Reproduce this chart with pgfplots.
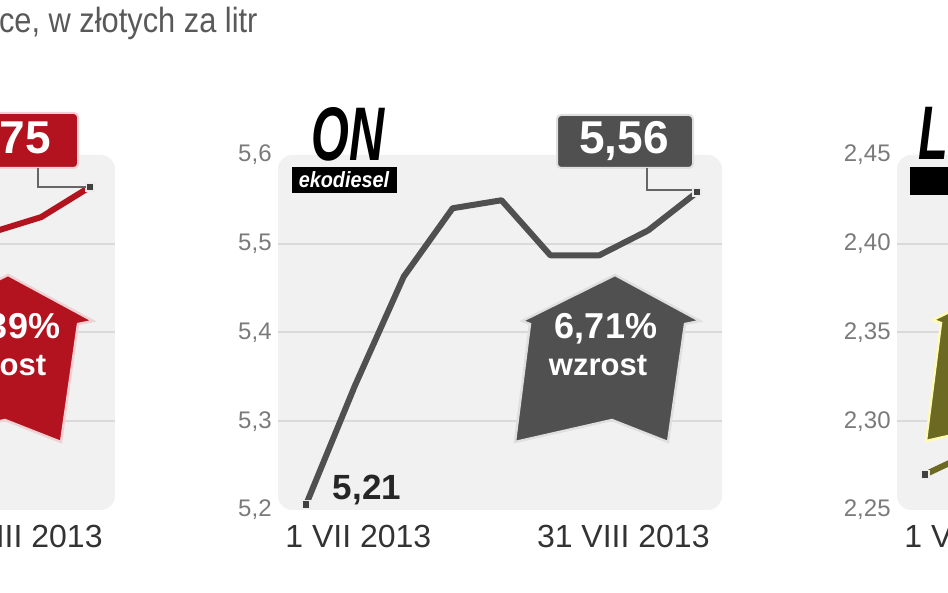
\documentclass[border=0pt]{standalone}
\usepackage{pgfplots}
\pgfplotsset{compat=1.18}
\usepackage{fontspec}
\setmainfont{Liberation Sans}
\newfontfamily\titlefont[FakeStretch=0.88]{Liberation Sans}
\newfontfamily\headfont[FakeStretch=0.64]{Liberation Sans}
\newfontfamily\subfont[FakeStretch=0.9]{Liberation Sans}
\definecolor{ongray}{HTML}{505050}
\definecolor{pbred}{HTML}{B2131F}
\definecolor{lpgolive}{HTML}{6C6A22}
\definecolor{panelbg}{HTML}{F1F1F1}
\definecolor{gridc}{HTML}{DADADA}
\definecolor{ticklab}{HTML}{7A7A7A}
\definecolor{datelab}{HTML}{333333}
\pgfplotsset{panel/.style={
  scale only axis, width=222pt, height=177.5pt, anchor=south west,
  axis line style={draw=none}, tick style={draw=none},
  xtick=\empty, xmin=-0.573, xmax=8.511, clip=false,
  axis background/.style={fill=panelbg, rounded corners=7pt},
  extra y tick labels={}, extra y tick style={grid=major},
  major grid style={gridc, line width=1pt},
  yticklabel style={font=\fontsize{12}{12}\selectfont, text=ticklab, inner sep=0pt, anchor=east, xshift=-3pt},
  /pgf/number format/assume math mode=true,
  /pgf/number format/use comma,
}}
\begin{document}
\begin{tikzpicture}
\useasboundingbox (0pt,0pt) rectangle (474pt,296.5pt);
\clip (0pt,0pt) rectangle (474pt,296.5pt);

% ---- left panel (Pb95, mostly cut off; its tick labels lie outside the picture) ----
\begin{axis}[panel, at={(-164.5pt,41.5pt)}, ymin=5.4, ymax=5.8,
  ytick={5.4,5.5,5.6,5.7,5.8}, yticklabels={}, extra y ticks={5.5,5.6,5.7}]
\addplot[pbred, line width=3pt, line join=round] coordinates {(6,5.713) (7,5.730) (8,5.764)};
\addplot[only marks, mark=square*, mark size=2pt, mark options={fill=black!75, draw=gray!15, line width=0.8pt}] coordinates {(8,5.764)};
\end{axis}

% ---- middle panel (ON) ----
\begin{axis}[panel, at={(139pt,41.5pt)}, ymin=5.2, ymax=5.6,
  ytick={5.2,5.3,5.4,5.5,5.6}, extra y ticks={5.3,5.4,5.5},
  yticklabel style={/pgf/number format/.cd, fixed, fixed zerofill, precision=1}]
\addplot[ongray, line width=3pt, line join=round] coordinates {(0,5.206) (1,5.34) (2,5.463) (3,5.540) (4,5.549) (5,5.487) (6,5.487) (7,5.515) (8,5.558)};
\addplot[only marks, mark=square*, mark size=2pt, mark options={fill=black!75, draw=gray!15, line width=0.8pt}] coordinates {(0,5.206) (8,5.558)};
\end{axis}

% ---- right panel (LPG, mostly cut off) ----
\begin{axis}[panel, at={(448.5pt,41.5pt)}, ymin=2.25, ymax=2.45,
  ytick={2.25,2.30,2.35,2.40,2.45}, extra y ticks={2.30,2.35,2.40},
  yticklabel style={/pgf/number format/.cd, fixed, fixed zerofill, precision=2}]
\addplot[lpgolive, line width=3pt, line join=round] coordinates {(0,2.270) (1,2.283)};
\addplot[only marks, mark=square*, mark size=2pt, mark options={fill=black!75, draw=gray!15, line width=0.8pt}] coordinates {(0,2.270)};
\end{axis}

\begin{scope}[x=0.5pt, y=-0.5pt, yshift=296.5pt]
% title
\node[anchor=base east, inner sep=0pt, text=black!65] at (258,33)
  {\titlefont\fontsize{17.5}{17.5}\selectfont Średnie ceny paliw w Polsce, w złotych za litr};

% arrows
\begin{scope}[shift={(-607,0)}]
\filldraw[fill=pbred, draw=pbred!20, line width=1.2pt] (615,275) -- (700,321) -- (685,324) -- (668,442) -- (612,420) -- (515,442) -- (530,324) -- (522,321) -- cycle;
\node[text=white, inner sep=0pt, font=\bfseries\fontsize{18}{18}\selectfont] at (616,329) {5,39\%};
\node[text=white, inner sep=0pt, font=\bfseries\fontsize{15.5}{15.5}\selectfont] at (604,366) {wzrost};
\end{scope}
\filldraw[fill=ongray, draw=gray!25, line width=1.2pt] (615,275) -- (700,321) -- (685,324) -- (668,442) -- (612,420) -- (515,442) -- (530,324) -- (522,321) -- cycle;
\node[text=white, inner sep=0pt, font=\bfseries\fontsize{18}{18}\selectfont] at (606,329) {6,71\%};
\node[text=white, inner sep=0pt, font=\bfseries\fontsize{15.5}{15.5}\selectfont] at (598,366) {wzrost};
\begin{scope}[shift={(411,-1)}]
\filldraw[fill=lpgolive, draw=yellow!30!white, line width=1.2pt] (615,275) -- (700,321) -- (685,324) -- (668,442) -- (612,420) -- (515,442) -- (530,324) -- (522,321) -- cycle;
\end{scope}

% value boxes
\filldraw[fill=pbred, draw=pbred!20, line width=1pt, rounded corners=2pt] (-58,113) rectangle (78,168);
\node[text=white, inner sep=0pt, font=\bfseries\fontsize{23}{23}\selectfont] at (6,141) {5,75};
\draw[black!60, line width=0.7pt] (38,168) -- (38,187) -- (86,187);
\filldraw[fill=ongray, draw=gray!25, line width=1pt, rounded corners=2pt] (557,115) rectangle (693,168);
\node[text=white, inner sep=0pt, font=\bfseries\fontsize{23}{23}\selectfont] at (624,141) {5,56};
\draw[black!60, line width=0.7pt] (647,168) -- (647,190) -- (692,190);
\node[text=black!85, inner sep=0pt, font=\bfseries\fontsize{17.5}{17.5}\selectfont] at (367,490) {5,21};

% headings
\node[anchor=base west, inner sep=0pt, text depth=0pt] at (311,161) {\headfont\bfseries\itshape\fontsize{38}{38}\selectfont ON};
\fill[black] (292,167) rectangle (397,193);
\node[text=white, inner sep=0pt] at (344,180) {\subfont\bfseries\itshape\fontsize{11}{11}\selectfont ekodiesel};
\node[anchor=base west, inner sep=0pt, text depth=0pt] at (918,160) {\headfont\bfseries\itshape\fontsize{38}{38}\selectfont LPG};
\fill[black] (910,167) rectangle (1040,195);

% dates
\node[anchor=base east, inner sep=0pt, text=datelab, font=\fontsize{16}{16}\selectfont] at (103,548) {31 VIII 2013};
\node[anchor=base west, inner sep=0pt, text=datelab, font=\fontsize{16}{16}\selectfont] at (285,548) {1 VII 2013};
\node[anchor=base east, inner sep=0pt, text=datelab, font=\fontsize{16}{16}\selectfont] at (710,548) {31 VIII 2013};
\node[anchor=base west, inner sep=0pt, text=datelab, font=\fontsize{16}{16}\selectfont] at (904,548) {1 VII 2013};
\end{scope}
\end{tikzpicture}
\end{document}
